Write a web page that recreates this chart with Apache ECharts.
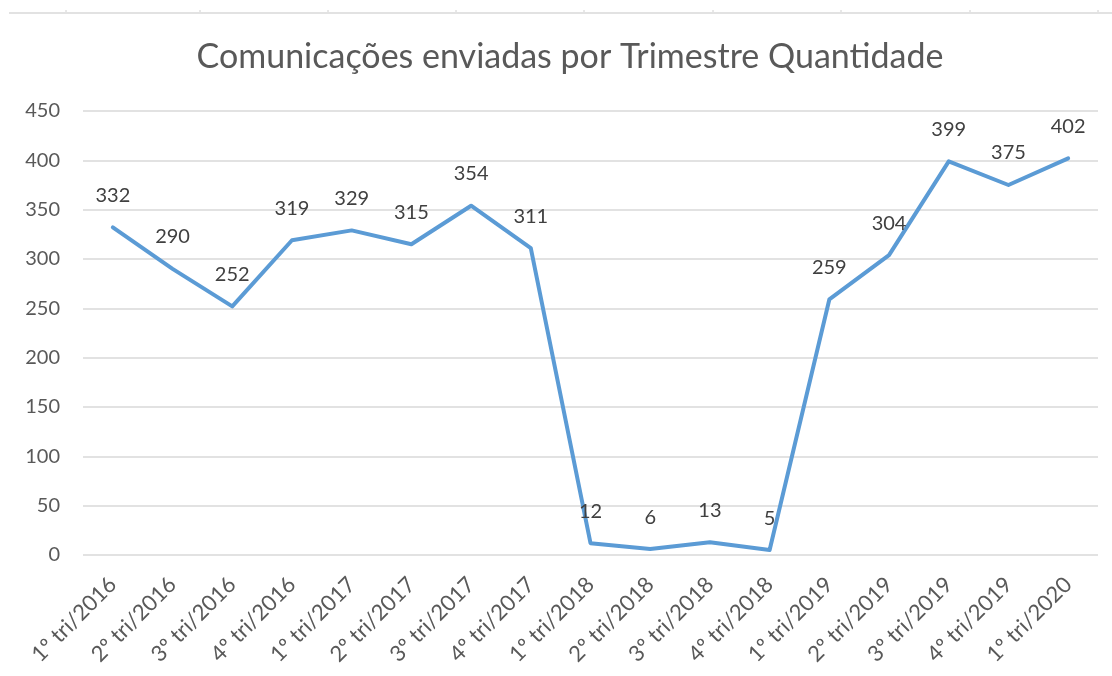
<!DOCTYPE html>
<html>
<head>
<meta charset="utf-8">
<script src="https://cdn.jsdelivr.net/npm/echarts@6/dist/echarts.min.js"></script>
<style>
  html, body { margin: 0; padding: 0; background: #fff; }
  #chart { width: 1112px; height: 676px; }
</style>
</head>
<body>
<div id="chart"></div>
<script>
// trimestres
var categories = ['1º tri/2016', '2º tri/2016', '3º tri/2016', '4º tri/2016',
  '1º tri/2017', '2º tri/2017', '3º tri/2017', '4º tri/2017',
  '1º tri/2018', '2º tri/2018', '3º tri/2018', '4º tri/2018',
  '1º tri/2019', '2º tri/2019', '3º tri/2019', '4º tri/2019', '1º tri/2020'];
// quantidade de comunicações
var quantidade = [332, 290, 252, 319, 329, 315, 354, 311, 12, 6, 13, 5, 259, 304, 399, 375, 402];

var font = 'Lato, "Open Sans", sans-serif';
var chart = echarts.init(document.getElementById('chart'));

// faixa cinza no topo (resto da planilha)
var topMarks = [66, 200, 328, 456, 584, 713, 841, 970, 1098];
var graphics = [{
  type: 'line', silent: true,
  shape: { x1: 9, y1: 13, x2: 1112, y2: 13 },
  style: { stroke: '#e2e2e2', lineWidth: 2 }
}];
topMarks.forEach(function (x) {
  graphics.push({
    type: 'line', silent: true,
    shape: { x1: x, y1: 10, x2: x, y2: 12 },
    style: { stroke: '#d0d0d0', lineWidth: 1 }
  });
});

var option = {
  backgroundColor: '#ffffff',
  animation: false,
  title: {
    text: 'Comunicações enviadas por Trimestre Quantidade',
    left: 565,
    top: 35,
    textAlign: 'center',
    textStyle: { fontFamily: font, fontSize: 34, fontWeight: 'normal', color: '#595959' }
  },
  graphic: graphics,
  grid: { left: 83, right: 14, top: 111, bottom: 121 },
  xAxis: {
    type: 'category',
    data: categories,
    boundaryGap: true,
    axisLine: { show: false },
    axisTick: { show: false },
    axisLabel: {
      rotate: 45,
      margin: 26,
      interval: 0,
      fontFamily: font,
      fontSize: 22,
      color: '#595959'
    }
  },
  yAxis: {
    type: 'value',
    min: 0,
    max: 450,
    interval: 50,
    axisLine: { show: false },
    axisTick: { show: false },
    axisLabel: { margin: 23, fontFamily: font, fontSize: 20, color: '#595959' },
    splitLine: { lineStyle: { color: '#d9d9d9', width: 1.5 } }
  },
  series: [{
    name: 'Quantidade',
    type: 'line',
    data: quantidade,
    symbol: 'circle',
    symbolSize: 0,
    showSymbol: true,
    itemStyle: { color: '#5b9bd5' },
    lineStyle: { color: '#5b9bd5', width: 4, cap: 'round', join: 'round' },
    label: {
      show: true,
      position: 'top',
      distance: 22,
      fontFamily: font,
      fontSize: 20,
      color: '#404040'
    }
  }]
};
chart.setOption(option);
</script>
</body>
</html>
